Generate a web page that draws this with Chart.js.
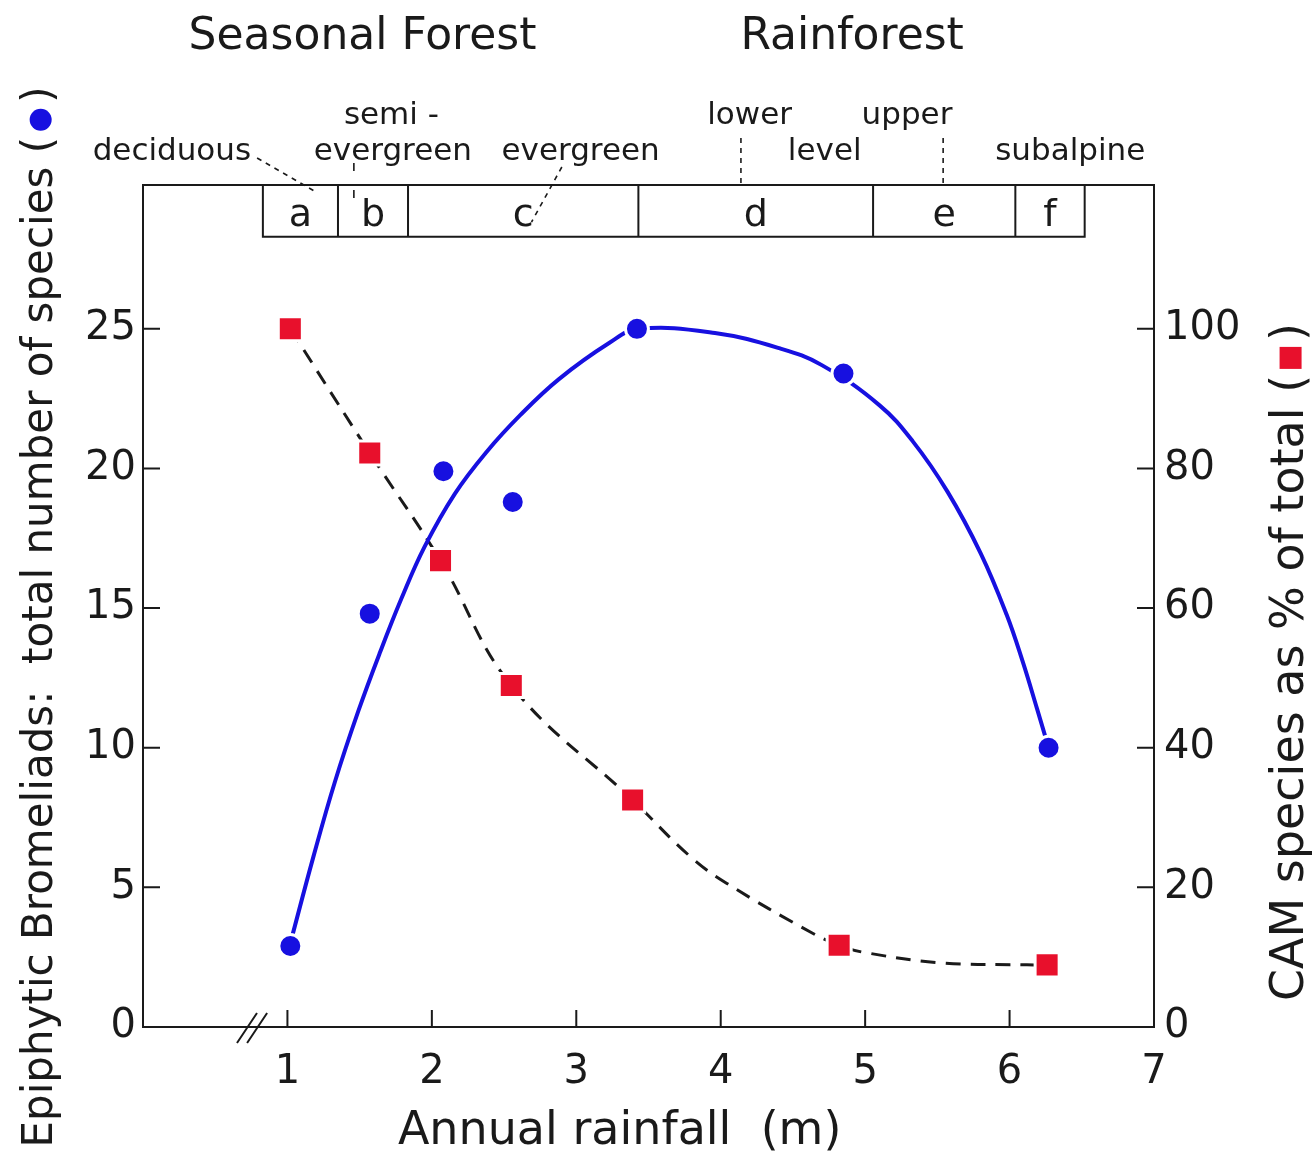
<!DOCTYPE html>
<html>
<head>
<meta charset="utf-8">
<title>Epiphytic Bromeliads</title>
<script src="https://cdn.jsdelivr.net/npm/chart.js@4.4.1/dist/chart.umd.min.js"></script>
<style>
  html, body { margin: 0; padding: 0; background: #fff; }
  #grafico { display: block; }
</style>
</head>
<body>
<canvas id="grafico" width="1312" height="1151"></canvas>
<script>
// total de especies (eixo esquerdo)
const chuvaEspecies = [1.02, 1.57, 2.08, 2.56, 3.42, 4.85, 6.27];
const totalEspecies = [2.9, 14.8, 19.9, 18.8, 25.0, 23.4, 10.0];

// % CAM (eixo direito)
const chuvaCAM = [1.02, 1.57, 2.06, 2.55, 3.39, 4.82, 6.26];
const percentCAM = [100, 82.2, 66.8, 48.9, 32.5, 11.7, 8.9];

// curvas ajustadas
const curvaEspeciesX = [1.02, 1.18, 1.33, 1.49, 1.64, 1.79, 1.95, 2.16, 2.38, 2.61, 2.88, 3.23, 3.43, 3.96, 4.41, 4.70, 5.10, 5.33, 5.57, 5.80, 5.98, 6.09, 6.19, 6.27];
const curvaEspeciesY = [3.0, 6.1, 8.8, 11.3, 13.4, 15.35, 17.2, 19.1, 20.6, 21.9, 23.2, 24.5, 25.0, 24.85, 24.3, 23.7, 22.26, 20.97, 19.17, 16.96, 14.76, 13.1, 11.4, 10.0];

const curvaCAMX = [1.02, 1.57, 2.06, 2.55, 3.39, 3.79, 4.04, 4.63, 4.82, 4.99, 5.52, 6.12, 6.26];
const curvaCAMY = [100, 82.2, 66.8, 48.9, 32.5, 24.4, 20.6, 13.5, 11.7, 10.7, 9.2, 8.9, 8.9];

const ticksX = [1, 2, 3, 4, 5, 6, 7];
const ticksEsquerda = [0, 5, 10, 15, 20, 25];
const ticksDireita = [0, 20, 40, 60, 80, 100];

// faixas de floresta no topo
const zonaLimites = [0.83, 1.35, 1.835, 3.43, 5.055, 6.04, 6.52];
const zonaLetras = ["a", "b", "c", "d", "e", "f"];

const AZUL = "#1710e0";
const VERMELHO = "#e8102c";
const PRETO = "#1a1a1a";
const FONTE = "DejaVu Sans";

Chart.defaults.font.family = FONTE;
Chart.defaults.color = PRETO;

function pontos(xs, ys) {
  return xs.map((x, i) => ({ x, y: ys[i] }));
}

function desenharMarcador(ctx, tipo, x, y) {
  ctx.save();
  if (tipo === "circulo") {
    ctx.fillStyle = AZUL;
    ctx.beginPath();
    ctx.arc(x, y, 11, 0, Math.PI * 2);
    ctx.fill();
  } else {
    ctx.fillStyle = VERMELHO;
    ctx.fillRect(x - 11, y - 11, 22, 22);
  }
  ctx.restore();
}

// titulo rotacionado com marcador entre parenteses
function tituloVertical(ctx, texto, tipo, cx, cy, tamanho) {
  ctx.save();
  ctx.translate(cx, cy);
  ctx.rotate(-Math.PI / 2);
  ctx.font = `${tamanho}px ${FONTE}`;
  ctx.fillStyle = PRETO;
  ctx.textAlign = "left";
  ctx.textBaseline = "alphabetic";
  const antes = texto + " (";
  const depois = ")";
  const w1 = ctx.measureText(antes).width;
  const w2 = ctx.measureText(depois).width;
  const gap = 34;
  const x0 = -(w1 + gap + w2) / 2;
  ctx.fillText(antes, x0, 0);
  desenharMarcador(ctx, tipo, x0 + w1 + gap / 2, -tamanho * 0.27);
  ctx.fillText(depois, x0 + w1 + gap, 0);
  ctx.restore();
}

const molduraPlugin = {
  id: "moldura",
  afterDraw(chart) {
    const { ctx, chartArea: a, scales } = chart;
    const sx = scales.x, sy = scales.y, sy2 = scales.y2;
    ctx.save();
    ctx.strokeStyle = PRETO;
    ctx.lineWidth = 2;

    // moldura
    ctx.beginPath();
    ctx.rect(a.left, a.top, a.right - a.left, a.bottom - a.top);
    ctx.stroke();

    // ticks para dentro
    const tam = 17;
    ctx.beginPath();
    ticksX.forEach((v) => {
      if (v >= 7) return;
      const px = sx.getPixelForValue(v);
      ctx.moveTo(px, a.bottom);
      ctx.lineTo(px, a.bottom - tam);
    });
    ticksEsquerda.forEach((v) => {
      if (v === 0) return;
      const py = sy.getPixelForValue(v);
      ctx.moveTo(a.left, py);
      ctx.lineTo(a.left + tam, py);
    });
    ticksDireita.forEach((v) => {
      if (v === 0) return;
      const py = sy2.getPixelForValue(v);
      ctx.moveTo(a.right, py);
      ctx.lineTo(a.right - tam, py);
    });
    ctx.stroke();

    // quebra do eixo x
    ctx.beginPath();
    [0.72, 0.79].forEach((v) => {
      const px = sx.getPixelForValue(v);
      ctx.moveTo(px - 10, a.bottom + 16);
      ctx.lineTo(px + 10, a.bottom - 14);
    });
    ctx.stroke();

    // faixas a-f
    const yBase = sy.getPixelForValue(28.3);
    const xIni = sx.getPixelForValue(zonaLimites[0]);
    const xFim = sx.getPixelForValue(zonaLimites[zonaLimites.length - 1]);
    ctx.beginPath();
    ctx.moveTo(xIni, a.top);
    ctx.lineTo(xIni, yBase);
    ctx.lineTo(xFim, yBase);
    ctx.lineTo(xFim, a.top);
    zonaLimites.slice(1, -1).forEach((v) => {
      const px = sx.getPixelForValue(v);
      ctx.moveTo(px, a.top);
      ctx.lineTo(px, yBase);
    });
    ctx.stroke();

    ctx.fillStyle = PRETO;
    ctx.textAlign = "center";
    ctx.textBaseline = "alphabetic";
    ctx.font = `38px ${FONTE}`;
    zonaLetras.forEach((letra, i) => {
      const px = sx.getPixelForValue((zonaLimites[i] + zonaLimites[i + 1]) / 2);
      ctx.fillText(letra, px, a.top + 41);
    });

    // rotulos das florestas
    ctx.font = `31px ${FONTE}`;
    const rotulos = [
      ["deciduous", 0.20, 25],
      ["semi -", 1.72, 61],
      ["evergreen", 1.73, 25],
      ["evergreen", 3.03, 25],
      ["lower", 4.20, 61],
      ["level", 4.72, 25],
      ["upper", 5.29, 61],
      ["subalpine", 6.42, 25],
    ];
    rotulos.forEach(([t, v, dy]) => {
      ctx.fillText(t, sx.getPixelForValue(v), a.top - dy);
    });

    ctx.font = `44px ${FONTE}`;
    ctx.fillText("Seasonal Forest", sx.getPixelForValue(1.52), a.top - 136);
    ctx.fillText("Rainforest", sx.getPixelForValue(4.91), a.top - 136);

    // linhas guia tracejadas
    ctx.lineWidth = 1.6;
    ctx.setLineDash([5, 5]);
    const guias = [
      [0.79, a.top - 27, 1.21, a.top + 8],
      [2.90, a.top - 18, 2.69, a.top + 37],
      [4.14, a.top - 47, 4.14, a.top],
      [5.54, a.top - 47, 5.54, a.top],
    ];
    ctx.beginPath();
    guias.forEach(([x1, y1, x2, y2]) => {
      ctx.moveTo(sx.getPixelForValue(x1), y1);
      ctx.lineTo(sx.getPixelForValue(x2), y2);
    });
    ctx.stroke();
    ctx.setLineDash([8, 19]);
    ctx.beginPath();
    ctx.moveTo(sx.getPixelForValue(1.46), a.top - 22);
    ctx.lineTo(sx.getPixelForValue(1.46), a.top + 16);
    ctx.stroke();
    ctx.setLineDash([]);

    // titulos dos eixos
    ctx.font = `46px ${FONTE}`;
    ctx.fillText("Annual rainfall  (m)", sx.getPixelForValue(3.3), 1144);
    tituloVertical(ctx, "Epiphytic Bromeliads:  total number of species", "circulo", 52, 617, 42);
    tituloVertical(ctx, "CAM species as % of total", "quadrado", 1303, 662, 46);

    ctx.restore();
  },
};

function criarGrafico() {
  new Chart(document.getElementById("grafico"), {
    type: "scatter",
    data: {
      datasets: [
        {
          label: "Species",
          data: pontos(chuvaEspecies, totalEspecies),
          yAxisID: "y",
          order: 0,
          pointStyle: "circle",
          pointRadius: 11.5,
          pointBackgroundColor: AZUL,
          pointBorderColor: "#fff",
          pointBorderWidth: 3,
        },
        {
          label: "CAM %",
          data: pontos(chuvaCAM, percentCAM),
          yAxisID: "y2",
          order: 0,
          pointStyle: "rect",
          pointRadius: 17,
          pointBackgroundColor: VERMELHO,
          pointBorderColor: "#fff",
          pointBorderWidth: 3,
        },
        {
          label: "Species fit",
          data: pontos(curvaEspeciesX, curvaEspeciesY),
          yAxisID: "y",
          order: 1,
          showLine: true,
          pointRadius: 0,
          borderColor: AZUL,
          borderWidth: 4,
          tension: 0.4,
        },
        {
          label: "CAM fit",
          data: pontos(curvaCAMX, curvaCAMY),
          yAxisID: "y2",
          order: 1,
          showLine: true,
          pointRadius: 0,
          borderColor: PRETO,
          borderWidth: 3,
          borderDash: [15, 10],
          tension: 0.4,
        },
      ],
    },
    options: {
      responsive: false,
      animation: false,
      devicePixelRatio: 1,
      layout: { padding: { top: 185, left: 0, right: 0, bottom: 0 } },
      plugins: { legend: { display: false }, tooltip: { enabled: false } },
      scales: {
        x: {
          type: "linear",
          min: 0,
          max: 7,
          afterBuildTicks: (s) => { s.ticks = ticksX.map((v) => ({ value: v })); },
          afterFit: (s) => { s.height = 124; },
          grid: { display: false, drawTicks: false },
          border: { display: false },
          ticks: { padding: 22, font: { size: 40 }, maxRotation: 0, autoSkip: false },
        },
        y: {
          type: "linear",
          position: "left",
          min: 0,
          max: 30.15,
          afterBuildTicks: (s) => { s.ticks = ticksEsquerda.map((v) => ({ value: v })); },
          afterFit: (s) => { s.width = 143; },
          grid: { display: false, drawTicks: false },
          border: { display: false },
          ticks: { padding: 7, font: { size: 40 } },
        },
        y2: {
          type: "linear",
          position: "right",
          min: 0,
          max: 120.6,
          afterBuildTicks: (s) => { s.ticks = ticksDireita.map((v) => ({ value: v })); },
          afterFit: (s) => { s.width = 158; },
          grid: { display: false, drawTicks: false },
          border: { display: false },
          ticks: { padding: 10, font: { size: 40 } },
        },
      },
    },
    plugins: [molduraPlugin],
  });
}

criarGrafico();
</script>
</body>
</html>
